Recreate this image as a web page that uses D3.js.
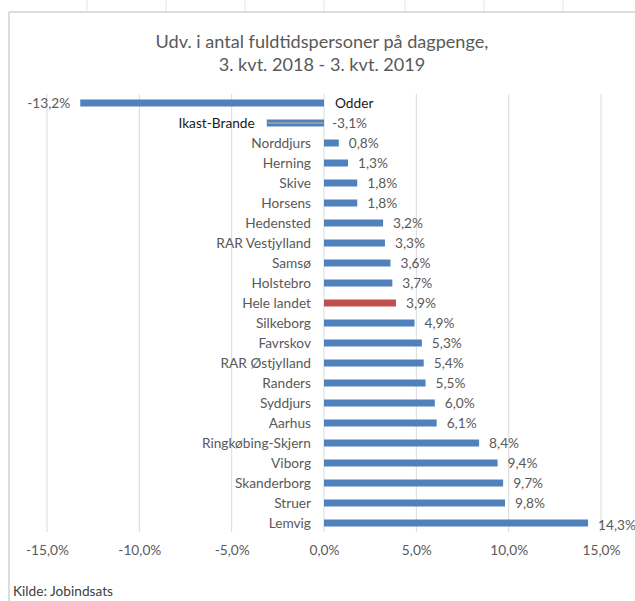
<!DOCTYPE html>
<html>
<head>
<meta charset="utf-8">
<script src="https://cdn.jsdelivr.net/npm/d3@7"></script>
<style>
  body { margin: 0; background: #fff; }
  svg text { font-family: Lato, "Open Sans", sans-serif; }
</style>
</head>
<body>
<div id="chart"></div>
<script>
// data, top to bottom
let municipalities = ["Odder", "Ikast-Brande", "Norddjurs", "Herning", "Skive", "Horsens", "Hedensted",
    "RAR Vestjylland", "Samsø", "Holstebro", "Hele landet", "Silkeborg", "Favrskov", "RAR Østjylland",
    "Randers", "Syddjurs", "Aarhus", "Ringkøbing-Skjern", "Viborg", "Skanderborg", "Struer", "Lemvig"];
let changePct = [-13.2, -3.1, 0.8, 1.3, 1.8, 1.8, 3.2, 3.3, 3.6, 3.7, 3.9, 4.9, 5.3, 5.4, 5.5, 6.0, 6.1,
    8.4, 9.4, 9.7, 9.8, 14.3];
let xTicks = [-15, -10, -5, 0, 5, 10, 15];
let titleLines = ["Udv. i antal fuldtidspersoner på dagpenge,", "3. kvt. 2018 - 3. kvt. 2019"];
let sourceNote = "Kilde: Jobindsats";

let width = 635, height = 601;
let labelSize = 13.7;
let fmt = v => d3.format(".1f")(v).replace(".", ",").replace("−", "-") + "%";

let svg = d3.select("#chart").append("svg")
    .attr("width", width)
    .attr("height", height);

// faint spreadsheet cell lines above the chart frame
[87, 166, 245, 324, 405, 484, 563].forEach(x => {
    svg.append("line")
        .attr("x1", x).attr("x2", x).attr("y1", 0).attr("y2", 11)
        .attr("stroke", "#e4e4e4");
});

// chart frame (top and left edges visible)
svg.append("line").attr("x1", 9).attr("x2", width).attr("y1", 12).attr("y2", 12)
    .attr("stroke", "#d0d0d0").attr("stroke-width", 1.5);
svg.append("line").attr("x1", 9).attr("x2", 9).attr("y1", 12).attr("y2", height)
    .attr("stroke", "#d0d0d0").attr("stroke-width", 1.5);

// title
svg.append("text")
    .attr("x", 322).attr("y", 48)
    .attr("text-anchor", "middle")
    .attr("fill", "#595959")
    .attr("font-size", 18.1)
    .selectAll("tspan")
    .data(titleLines)
    .enter().append("tspan")
    .attr("x", 322)
    .attr("dy", (d, i) => i === 0 ? 0 : 23)
    .text(d => d);

let x = d3.scaleLinear().domain([-15, 15]).range([47, 601]);
let y = d3.scaleBand().domain(municipalities).range([93, 533])
    .paddingInner(0.65).paddingOuter(0.325);

// gridlines
svg.append("g").selectAll("line")
    .data(xTicks)
    .enter().append("line")
    .attr("x1", d => x(d)).attr("x2", d => x(d))
    .attr("y1", 94).attr("y2", 532)
    .attr("stroke", "#d9d9d9").attr("stroke-width", 1);

// x axis tick labels
let xAxis = d3.axisBottom(x).tickValues(xTicks).tickSize(0).tickFormat(fmt);
let gx = svg.append("g").attr("transform", "translate(0,542)").call(xAxis);
gx.select(".domain").remove();
gx.selectAll("text").attr("font-size", labelSize).attr("fill", "#595959")
    .style("font-family", "Lato, 'Open Sans', sans-serif");

let rows = municipalities.map((m, i) => ({ name: m, value: changePct[i] }));

// bars
svg.append("g").selectAll("rect")
    .data(rows)
    .enter().append("rect")
    .attr("x", d => x(Math.min(0, d.value)))
    .attr("y", d => y(d.name))
    .attr("width", d => Math.abs(x(d.value) - x(0)))
    .attr("height", y.bandwidth())
    .attr("fill", d => d.name === "Hele landet" ? "#c0504d" : "#4f81bd");

// Ikast-Brande bar has a light stripe through it
svg.append("g").selectAll("line")
    .data(rows.filter(d => d.name === "Ikast-Brande"))
    .enter().append("line")
    .attr("x1", d => x(d.value) + 1).attr("x2", d => x(0) - 1)
    .attr("y1", d => y(d.name) + y.bandwidth() / 2)
    .attr("y2", d => y(d.name) + y.bandwidth() / 2)
    .attr("stroke", "#a6a6a6").attr("stroke-width", 1.5);

// category labels
svg.append("g").selectAll("text")
    .data(rows)
    .enter().append("text")
    .attr("x", d => {
        if (d.name === "Odder") return x(0) + 11;
        if (d.value < 0) return x(d.value) - 12;
        return x(0) - 13;
    })
    .attr("y", d => y(d.name) + y.bandwidth() / 2)
    .attr("dy", "0.35em")
    .attr("text-anchor", d => d.name === "Odder" ? "start" : "end")
    .attr("font-size", labelSize)
    .attr("fill", d => d.value < 0 ? "#1a1a1a" : "#595959")
    .text(d => d.name);

// value labels
svg.append("g").selectAll("text")
    .data(rows)
    .enter().append("text")
    .attr("x", d => {
        if (d.name === "Odder") return x(d.value) - 10;
        if (d.value < 0) return x(0) + 8;
        return x(d.value) + 10;
    })
    .attr("y", d => y(d.name) + y.bandwidth() / 2)
    .attr("dy", d => d.name === "Lemvig" ? "0.5em" : "0.4em")
    .attr("text-anchor", d => d.name === "Odder" ? "end" : "start")
    .attr("font-size", labelSize)
    .attr("fill", "#595959")
    .text(d => fmt(d.value));

// source note
svg.append("text")
    .attr("x", 13).attr("y", 596)
    .attr("font-size", labelSize)
    .attr("fill", "#404040")
    .text(sourceNote);
</script>
</body>
</html>
